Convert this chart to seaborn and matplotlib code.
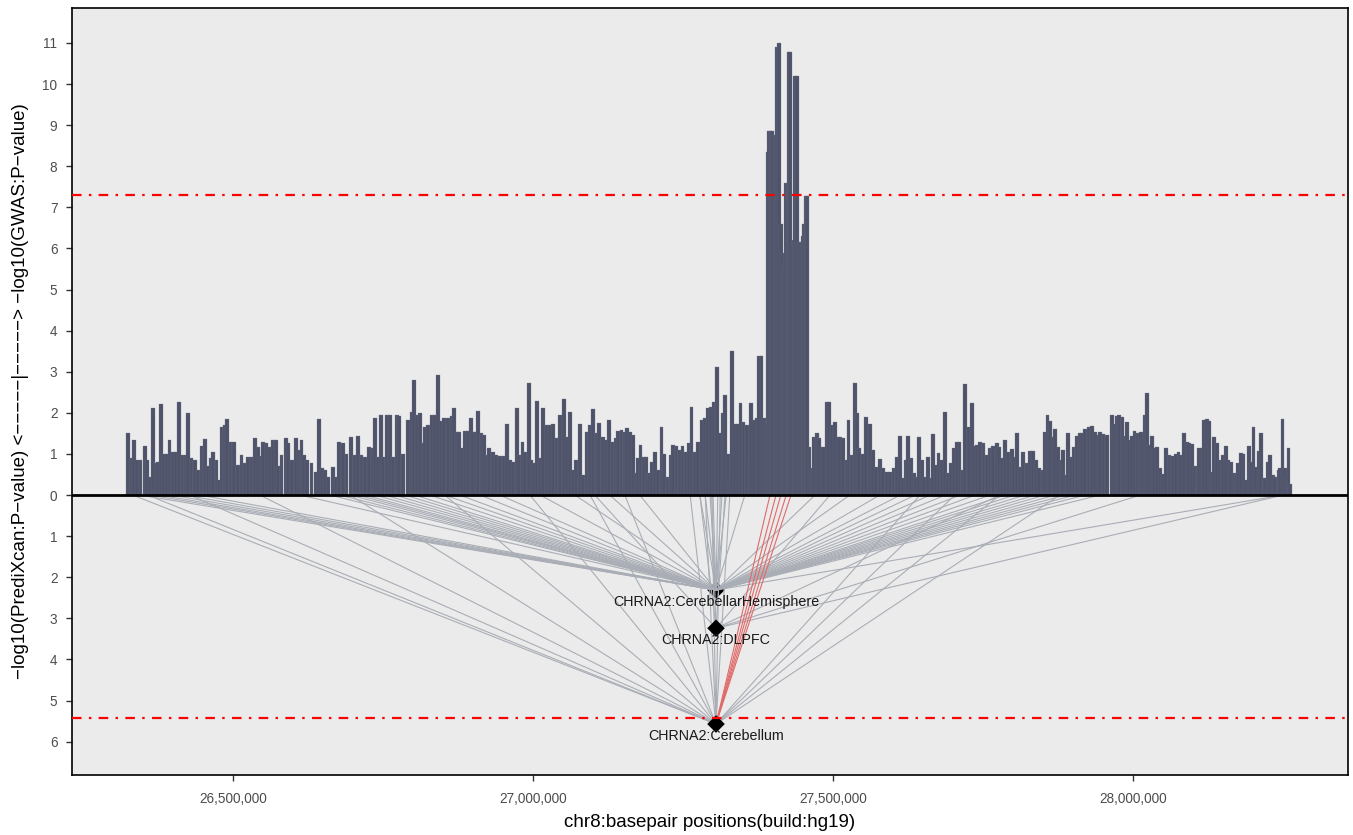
import numpy as np
import pandas as pd
import matplotlib
matplotlib.use("Agg")
import matplotlib.pyplot as plt
import matplotlib.ticker as mticker
import seaborn as sns

# GWAS SNPs: position (kb, chr8 hg19) and -log10(P)
snp_kb = [
    26325.5, 26331, 26335.5, 26340.5, 26346, 26353, 26357, 26361.6, 26367, 26371.6,
    26375.5, 26380, 26385, 26389.5, 26394, 26399.5, 26405, 26410.5, 26416, 26421.6,
    26425.5, 26431, 26436.6, 26442, 26447.7, 26453.3, 26458.9, 26463.3, 26467.2, 26472.7,
    26477.2, 26481, 26486.6, 26490.5, 26496, 26501.6, 26508.9, 26514.4, 26520, 26525.5,
    26531, 26536.6, 26542.2, 26546, 26550.5, 26556, 26561.7, 26567.2, 26571.6, 26575.5,
    26581, 26588.3, 26592.2, 26597.8, 26605, 26609, 26614.4, 26618.3, 26622.8, 26631,
    26638.3, 26643.9, 26647.8, 26653.3, 26658.9, 26666.1, 26671.7, 26677.2, 26683.9, 26689.4,
    26696.6, 26703.3, 26708.9, 26714.4, 26720, 26727.2, 26732.8, 26737.2, 26742.2, 26746.1,
    26750.6, 26756.1, 26761.7, 26767.2, 26772.8, 26777.2,
    26783.9, 26792.2, 26797.7, 26802.2, 26806.1, 26811.6, 26816.1, 26820, 26825.5, 26831.1,
    26836.6, 26842.2, 26846.1, 26851.6, 26858.9, 26864.4, 26868.3, 26872.8, 26877.2, 26881.1,
    26886.6, 26892.2, 26896.1, 26900.5, 26905, 26908.9, 26914.4, 26918.3, 26923.9, 26927.2,
    26932.8, 26938.3, 26945, 26951.6, 26957.2, 26961.6, 26967.2, 26972.8, 26977.2, 26982.7,
    26986.6, 26993.3, 26997.7, 27002.2, 27007.2, 27011.6, 27017.2, 27022.7, 27028.3, 27033.9,
    27039.4, 27045, 27051.6, 27056.1, 27061.7, 27066.1, 27071.6, 27078.3, 27083.9, 27089.4,
    27095, 27100.5, 27106.1, 27110.5, 27116.1, 27121.6, 27127.2, 27132.7, 27138.3, 27142.2,
    27147.7, 27153.3, 27157.2, 27161.6, 27167.2, 27171.6, 27175.5, 27179.4, 27185, 27189.4,
    27193.9, 27198.9, 27203.3, 27208.9, 27214.4, 27218.9, 27224.4, 27229.4, 27233.9, 27239.4,
    27245, 27249.4, 27255, 27260.5, 27264.4, 27270, 27275.5,
    27281.1, 27286.7, 27292.2, 27296.7, 27300.6, 27307.2, 27311.7, 27316.1, 27320, 27324.4,
    27328.3, 27331.7, 27336.7, 27342.2, 27345.6, 27350.6, 27356.1, 27360.6, 27363.9, 27368.3,
    27372.8, 27376.1, 27380.6, 27385, 27388.3,
    27390.6, 27393.3, 27396, 27398.9, 27402.2, 27405, 27407.2, 27410, 27412.8, 27415.6,
    27418.3, 27421.7, 27424, 27426, 27428.3, 27431, 27434, 27437.2, 27439.4, 27442.8,
    27446, 27449.4, 27451.7, 27454.4, 27456.7,
    27460.6, 27464.4, 27468.3, 27472.8, 27477.2, 27481, 27485, 27489.4, 27493.9, 27497.8,
    27503.3, 27508.9,
    27511.7, 27517.2, 27522.8, 27525.6, 27531.1, 27536.7, 27539.5, 27543.9, 27549.5, 27555,
    27561.7, 27566.1, 27571.7, 27578.3, 27583.9, 27589.5, 27595, 27600.6, 27606.1, 27611.7,
    27616.1, 27620.6, 27624.5, 27629.5, 27635, 27638.3, 27643.3, 27647.8, 27652.2, 27657.8,
    27663.3, 27667.2, 27671.7, 27675.6, 27681.1, 27686.7, 27691.1, 27696.7, 27701.7, 27706.1,
    27710.6, 27716.1, 27720, 27724.5, 27726.7, 27731.7, 27735, 27739.5, 27745, 27750.6,
    27756.1, 27760.6, 27767.2, 27772.8, 27777.2, 27781.1, 27786.7, 27792.2, 27797.8, 27802.2,
    27807.2, 27811.7, 27817.2, 27822.8, 27828.3, 27832.8, 27838.3, 27843.9, 27849.5, 27853.3,
    27857.3, 27861.7, 27866.1, 27870, 27874.5, 27879.5, 27883.9, 27887.8, 27891.7, 27896.1,
    27900.6, 27906.1, 27910.6, 27914.5, 27920, 27925.6, 27931.1, 27936.7, 27942.2,
    27945, 27950.6, 27956.1, 27964.5, 27968.4, 27972.8, 27976.7, 27982.3, 27986.7, 27989.5,
    27993.9, 27997.8, 28002.3, 28007.3, 28012.8, 28016.2, 28020, 28022.8, 28026.7, 28031.2,
    28035, 28039.5, 28045, 28049.5, 28055, 28060.6, 28066.1, 28071.7, 28075.6, 28080,
    28085, 28089.5, 28093.9, 28097.8, 28102.3, 28107.3, 28110, 28114.5, 28118.9, 28122.8,
    28127.3, 28131.2, 28135, 28139.5, 28144, 28149.5, 28155, 28159, 28163.4, 28168.4,
    28171.7, 28174.5, 28179.5, 28184, 28188.4, 28193.4, 28196.7, 28200.6, 28204.5, 28209,
    28213.4, 28217.3, 28220, 28224, 28228.4, 28232.8, 28236.7, 28242.3, 28245, 28249,
    28252.8, 28256.2, 28259, 28261.7,
]
gwas_logp = [
    1.52, 0.9, 1.34, 0.85, 0.85, 1.19, 0.85, 0.45, 2.13, 0.77,
    0.8, 2.21, 1.0, 1.0, 1.34, 1.05, 1.05, 2.27, 0.97, 0.97,
    2.0, 0.9, 0.85, 0.6, 1.2, 1.37, 0.7, 0.9, 1.05, 0.85,
    0.36, 1.66, 1.7, 1.84, 1.3, 1.3, 0.73, 0.97, 0.77, 0.92,
    0.92, 1.38, 1.18, 0.95, 1.3, 1.26, 1.18, 1.34, 1.35, 0.7,
    0.97, 1.38, 1.27, 0.85, 1.38, 1.1, 1.35, 0.97, 0.85, 0.79,
    0.57, 1.84, 0.67, 0.62, 0.45, 0.69, 0.45, 1.3, 1.26, 1.0,
    1.42, 0.97, 1.44, 0.97, 0.93, 1.18, 1.14, 1.87, 0.93, 1.95,
    0.93, 1.95, 1.96, 0.93, 1.96, 1.92,
    1.01, 1.82, 2.03, 2.81, 1.95, 1.99, 1.26, 1.66, 1.7, 1.96,
    1.95, 2.92, 1.8, 1.87, 1.87, 1.92, 2.13, 1.54, 1.54, 1.14,
    1.56, 1.56, 1.87, 1.54, 1.54, 2.05, 1.5, 1.46, 0.97, 1.15,
    1.05, 0.97, 0.95, 0.95, 1.72, 0.85, 0.81, 2.13, 0.97, 1.3,
    1.05, 2.72, 0.85, 0.77, 2.29, 0.89, 2.11, 1.7, 1.7, 1.74,
    1.38, 1.95, 2.34, 1.42, 2.03, 0.61, 0.85, 1.72, 0.49, 1.54,
    1.7, 2.09, 1.5, 1.76, 1.42, 1.34, 1.82, 1.3, 1.38, 1.57,
    1.58, 1.54, 1.62, 1.54, 1.46, 0.53, 0.89, 1.22, 0.93, 0.93,
    0.53, 0.81, 1.05, 0.61, 1.66, 1.01, 0.45, 0.97, 1.22, 1.19,
    1.09, 1.19, 1.05, 1.26, 2.15, 1.05, 1.3,
    1.82, 1.87, 2.11, 2.15, 2.27, 3.11, 1.5, 1.99, 2.43, 1.01,
    0.36, 3.5, 1.74, 1.74, 2.23, 1.78, 1.7, 0.93, 2.23, 1.82,
    1.87, 3.39, 3.38, 1.87, 1.78,
    8.35, 8.86, 8.86, 8.86, 8.76, 8.76, 10.9, 10.99, 6.6, 5.9,
    5.5, 7.6, 7.6, 10.79, 10.79, 6.1, 6.2, 10.2, 10.2, 6.16,
    6.16, 6.3, 6.6, 7.28, 7.28,
    1.18, 0.65, 1.42, 1.5, 1.38, 1.18, 1.18, 2.27, 2.27, 1.7,
    1.78, 1.42,
    1.42, 1.38, 0.85, 1.82, 0.97, 2.72, 1.99, 1.14, 1.01, 1.89,
    1.73, 1.09, 0.69, 0.88, 0.65, 0.57, 0.57, 0.65, 0.93, 1.44,
    0.41, 0.85, 1.44, 0.89, 0.53, 0.45, 1.42, 0.85, 0.45, 0.92,
    0.41, 1.48, 0.73, 1.03, 0.85, 2.03, 0.53, 0.77, 1.14, 1.3,
    1.3, 0.61, 2.7, 0.61, 1.65, 2.25, 1.19, 1.22, 1.3, 1.27,
    0.97, 1.14, 1.19, 1.27, 1.18, 0.89, 1.34, 1.05, 1.11, 0.92,
    1.52, 0.69, 1.05, 0.77, 1.08, 1.08, 0.85, 0.65, 0.61, 1.54,
    1.95, 1.81, 1.42, 1.6, 1.18, 0.85, 1.09, 0.49, 1.5, 0.93,
    1.18, 1.44, 1.5, 1.5, 1.6, 1.66, 1.68, 1.54, 1.46,
    1.54, 1.48, 1.46, 1.95, 1.73, 1.92, 1.94, 1.89, 1.44, 1.78,
    1.34, 1.44, 1.57, 1.5, 1.54, 1.4, 1.95, 2.49, 1.22, 1.44,
    1.14, 1.18, 0.67, 0.51, 1.14, 0.97, 0.96, 1.01, 1.05, 0.97,
    1.52, 1.3, 1.26, 1.24, 0.71, 0.71, 1.14, 1.14, 1.82, 1.84,
    1.8, 0.57, 1.42, 1.26, 0.85, 0.97, 1.19, 0.85, 0.81, 0.53,
    0.49, 0.79, 1.03, 1.01, 0.37, 1.19, 0.81, 1.66, 0.69, 1.08,
    1.52, 0.41, 0.42, 0.81, 0.97, 0.49, 0.43, 0.61, 0.65, 1.84,
    0.67, 0.49, 1.14, 0.28,
]

# PrediXcan gene results
gene_name = "CHRNA2"
gene_kb = 27305
tissues = ["CerebellarHemisphere", "DLPFC", "Cerebellum"]
tissue_logp = [2.31, 3.24, 5.57]

# SNPs (kb) linked to each tissue model
links_cerhem = [
    26345, 26362, 26378, 26398, 26420, 26445, 26612, 26662, 26678, 26695,
    26708, 26720, 26737, 26753, 26770, 26787, 26803, 26828, 26853, 26878,
    26912, 26945, 27012, 27070, 27128, 27178, 27278, 27287, 27295, 27300,
    27308, 27315, 27322, 27353, 27470, 27528, 27578, 27612, 27637, 27662,
    27687, 27712, 27737, 27762, 27787, 27803, 27820, 27837, 27853, 27870,
    27887, 27903, 27920, 27945, 28250,
]
links_dlpfc = [27103, 27278, 27298, 27320, 27495, 27778, 28012, 28250]
links_cereb = [
    26333, 26358, 26428, 26545, 26695, 26853, 26995, 27095, 27153, 27262,
    27287, 27298, 27312, 27328, 27645, 27703, 27778, 27878,
]
links_cereb_sig = [27395, 27405, 27413, 27422, 27430]

gwas_line = 7.3
predixcan_line = 5.43

sns.set_theme(style="white")
plt.rcParams["font.family"] = ["Liberation Sans", "DejaVu Sans"]

fig = plt.figure(figsize=(13.53, 8.35), dpi=100)
ax = fig.add_axes([72 / 1353, 1 - 775 / 835, (1348 - 72) / 1353, (775 - 8) / 835])
ax.set_facecolor("#EBEBEB")

# top: GWAS bars
ax.bar(np.array(snp_kb) * 1000, gwas_logp, width=6200, color="#4E5369",
       edgecolor="#6F7488", linewidth=0.2, zorder=2)

# bottom: SNP -> gene links
rows = []
lid = 0
for tissue, lp, snps, sig in [
    ("CerebellarHemisphere", tissue_logp[0], links_cerhem, "no"),
    ("DLPFC", tissue_logp[1], links_dlpfc, "no"),
    ("Cerebellum", tissue_logp[2], links_cereb, "no"),
    ("Cerebellum", tissue_logp[2], links_cereb_sig, "yes"),
]:
    for s in snps:
        rows.append({"x": s * 1000, "y": 0.0, "link": lid, "sig": sig})
        rows.append({"x": gene_kb * 1000, "y": -lp, "link": lid, "sig": sig})
        lid += 1
links = pd.DataFrame(rows)

genes = pd.DataFrame({"x": [gene_kb * 1000] * 3, "y": [-v for v in tissue_logp],
                      "tissue": tissues})

# hemisphere diamond sits under the links
sns.scatterplot(data=genes.iloc[:1], x="x", y="y", marker="D", s=80, color="black",
                edgecolor="none", ax=ax, zorder=2)
sns.lineplot(data=links, x="x", y="y", units="link", estimator=None, hue="sig",
             palette={"no": "#A9ADB5", "yes": "#E06A6A"}, linewidth=0.8,
             legend=False, ax=ax, zorder=3)
sns.scatterplot(data=genes.iloc[1:], x="x", y="y", marker="D", s=80, color="black",
                edgecolor="none", ax=ax, zorder=4)

for _, r in genes.iterrows():
    ax.text(r["x"], r["y"] - 0.12, f"{gene_name}:{r['tissue']}", ha="center", va="top",
            fontsize=10.3, color="#1A1A1A", zorder=5)

ax.axhline(0, color="black", linewidth=2, zorder=4)
ax.axhline(gwas_line, color="red", linewidth=1.6, linestyle=(0, (4.3, 3.3, 1.1, 3.3)), zorder=4)
ax.axhline(-predixcan_line, color="red", linewidth=1.6, linestyle=(0, (4.3, 3.3, 1.1, 3.3)), zorder=4)

ax.set_xlim(26231.7e3, 28358.3e3)
ax.set_ylim(-6.81, 11.85)
ax.set_xticks([26500000, 27000000, 27500000, 28000000])
ax.xaxis.set_major_formatter(mticker.FuncFormatter(lambda v, p: f"{int(v):,}"))
ax.set_yticks(range(-6, 12))
ax.yaxis.set_major_formatter(mticker.FuncFormatter(lambda v, p: f"{abs(int(round(v)))}"))

ax.tick_params(axis="both", direction="out", length=4, width=1, color="#333333",
               labelcolor="#4D4D4D", labelsize=9.8, left=True, bottom=True)
ax.tick_params(axis="x", pad=8)
ax.tick_params(axis="y", pad=6.5)
for sp in ax.spines.values():
    sp.set_color("black")
    sp.set_linewidth(1.2)

ax.set_xlabel("chr8:basepair positions(build:hg19)", fontsize=13.5, color="black", labelpad=6)
ax.set_ylabel("\u2212log10(PrediXcan:P\u2212value) <\u2212\u2212\u2212\u2212\u2212|\u2212\u2212\u2212\u2212\u2212> \u2212log10(GWAS:P\u2212value)",
              fontsize=13.5, color="black", labelpad=10)

fig.savefig("out.png", dpi=100)
